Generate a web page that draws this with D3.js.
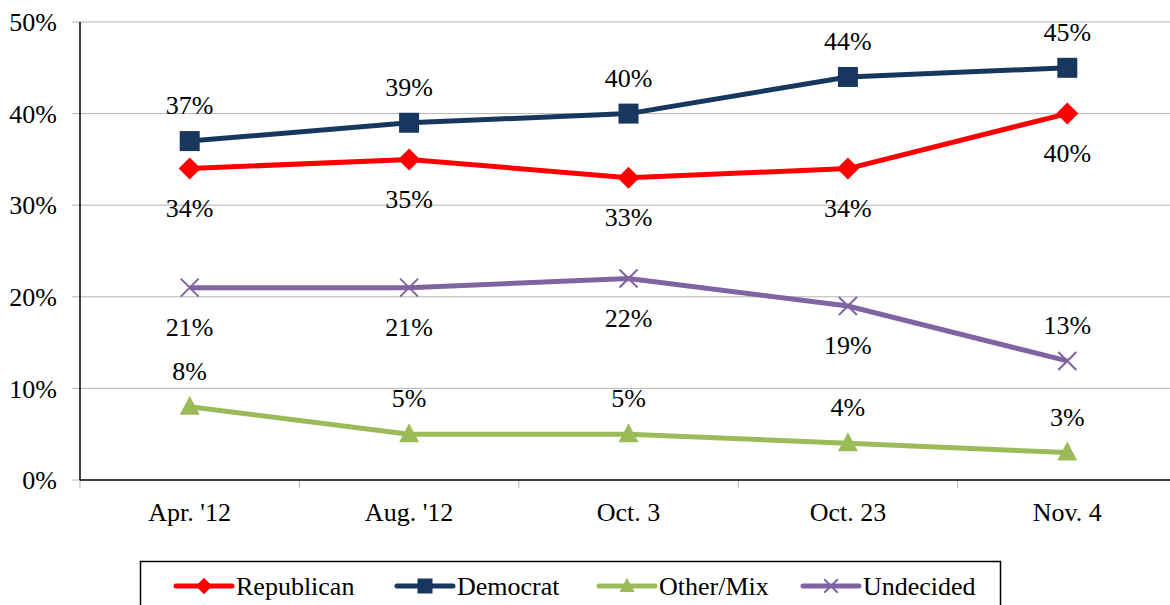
<!DOCTYPE html>
<html><head><meta charset="utf-8">
<script src="https://cdn.jsdelivr.net/npm/d3@7"></script>
<style>body{margin:0;background:#fff}svg{display:block}</style>
</head><body>
<svg id="c" width="1170" height="605" font-family="Liberation Serif, Times New Roman, serif"></svg>
<script>
const categories = ["Apr. '12", "Aug. '12", "Oct. 3", "Oct. 23", "Nov. 4"];
const republican = [34, 35, 33, 34, 40];
const democrat = [37, 39, 40, 44, 45];
const otherMix = [8, 5, 5, 4, 3];
const undecided = [21, 21, 22, 19, 13];
const yTicks = [0, 10, 20, 30, 40, 50];

const series = [
  {name: "Republican", values: republican, color: "#ff0000", marker: "diamond", labelPos: ["b","b","b","b","b"]},
  {name: "Democrat", values: democrat, color: "#17375e", marker: "square", labelPos: ["t","t","t","t","t"]},
  {name: "Other/Mix", values: otherMix, color: "#9bbb59", marker: "triangle", labelPos: ["t","t","t","t","t"]},
  {name: "Undecided", values: undecided, color: "#8064a2", marker: "x", labelPos: ["b","b","b","b","t"]}
];

const svg = d3.select("#c");
const pLeft = 80, pRight = 1177, pTop = 22, pBottom = 480;
const x = d3.scaleBand().domain(categories).range([pLeft, pRight]);
const y = d3.scaleLinear().domain([0, 50]).range([pBottom, pTop]);
const FS = 26;

// gridlines
svg.append("g").selectAll("line").data(yTicks.filter(d => d > 0)).join("line")
  .attr("x1", pLeft - 8).attr("x2", 1170).attr("y1", d => y(d)).attr("y2", d => y(d))
  .attr("stroke", "#b3b3b3").attr("stroke-width", 1);
svg.append("line").attr("x1", pLeft - 8).attr("x2", pLeft).attr("y1", y(0)).attr("y2", y(0)).attr("stroke", "#b3b3b3");

// y labels
svg.append("g").selectAll("text").data(yTicks).join("text")
  .attr("x", 57).attr("y", d => y(d)).attr("dy", "0.35em").attr("text-anchor", "end")
  .attr("font-size", FS).text(d => d + "%");

// x tick marks at band boundaries
const bounds = categories.map(c => x(c)).concat([pRight]);
svg.append("g").selectAll("line").data(bounds).join("line")
  .attr("x1", d => d).attr("x2", d => d).attr("y1", pBottom).attr("y2", pBottom + 8)
  .attr("stroke", "#b3b3b3");

// axes lines
svg.append("line").attr("x1", pLeft).attr("x2", pLeft).attr("y1", pTop).attr("y2", pBottom).attr("stroke", "#000").attr("stroke-width", 1.5);
svg.append("line").attr("x1", pLeft).attr("x2", 1170).attr("y1", pBottom).attr("y2", pBottom).attr("stroke", "#000").attr("stroke-width", 1.5);

// x labels
svg.append("g").selectAll("text").data(categories).join("text")
  .attr("x", d => x(d) + x.bandwidth() / 2).attr("y", 512).attr("dy", "0.35em")
  .attr("text-anchor", "middle").attr("font-size", FS).text(d => d);

function drawMarker(g, type, cx, cy, color, scale) {
  const s = scale || 1;
  if (type === "diamond") {
    const r = 11 * s;
    g.append("path").attr("d", `M${cx},${cy - r}L${cx + r},${cy}L${cx},${cy + r}L${cx - r},${cy}Z`).attr("fill", color);
  } else if (type === "square") {
    const h = 10 * s;
    g.append("rect").attr("x", cx - h).attr("y", cy - h).attr("width", 2 * h).attr("height", 2 * h).attr("fill", color);
  } else if (type === "triangle") {
    const h = 10 * s;
    g.append("path").attr("d", `M${cx},${cy - h * 1.1}L${cx + h},${cy + h * 0.8}L${cx - h},${cy + h * 0.8}Z`).attr("fill", color);
  } else if (type === "x") {
    const h = 9 * s;
    g.append("path").attr("d", `M${cx - h},${cy - h}L${cx + h},${cy + h}M${cx - h},${cy + h}L${cx + h},${cy - h}`)
      .attr("stroke", color).attr("stroke-width", 2).attr("fill", "none");
  }
}

const line = d3.line().x((d, i) => x(categories[i]) + x.bandwidth() / 2).y(d => y(d));

series.forEach(s => {
  const g = svg.append("g");
  g.append("path").datum(s.values).attr("d", line).attr("fill", "none")
    .attr("stroke", s.color).attr("stroke-width", 5).attr("stroke-linejoin", "round");
  s.values.forEach((v, i) => {
    const cx = x(categories[i]) + x.bandwidth() / 2, cy = y(v);
    drawMarker(g, s.marker, cx, cy, s.color);
    g.append("text").attr("x", cx).attr("y", cy + (s.labelPos[i] === "t" ? -36 : 39)).attr("dy", "0.35em")
      .attr("text-anchor", "middle").attr("font-size", FS).text(v + "%");
  });
});

// legend
const lg = svg.append("g");
lg.append("rect").attr("x", 140.5).attr("y", 561.5).attr("width", 860).attr("height", 60)
  .attr("fill", "#fff").attr("stroke", "#000").attr("stroke-width", 1.5);
const legX = [176, 397, 599, 803];
series.forEach((s, i) => {
  const lx = legX[i], ly = 586;
  lg.append("line").attr("x1", lx).attr("x2", lx + 56).attr("y1", ly).attr("y2", ly)
    .attr("stroke", s.color).attr("stroke-width", 5).attr("stroke-linecap", "round");
  drawMarker(lg, s.marker, lx + 28, ly, s.color, 0.75);
  lg.append("text").attr("x", lx + 60).attr("y", ly).attr("dy", "0.35em").attr("font-size", FS).text(s.name);
});
</script>
</body></html>
